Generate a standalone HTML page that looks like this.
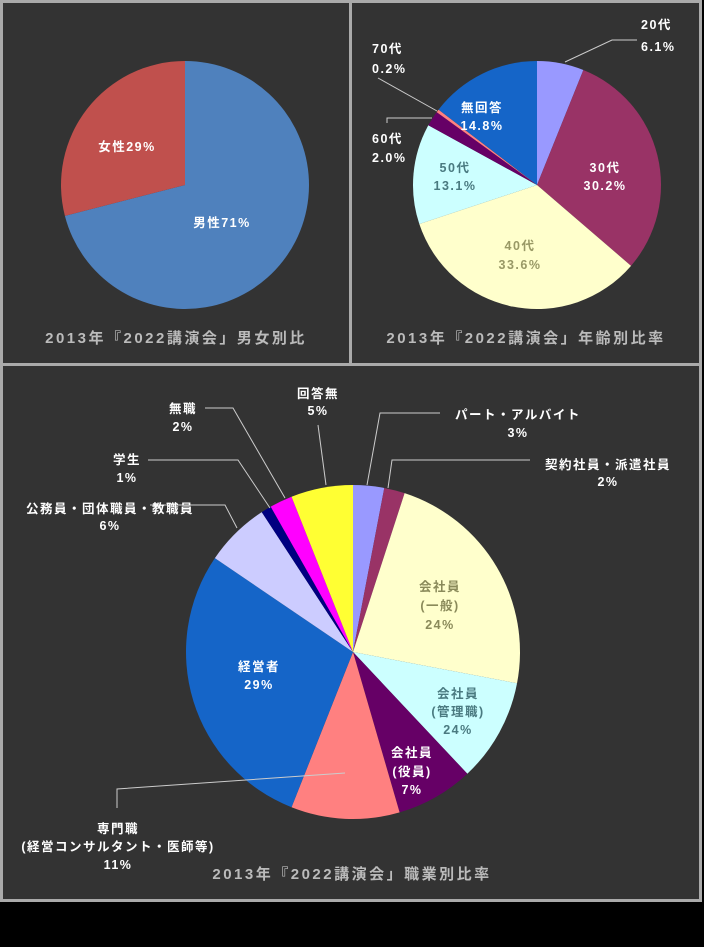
<!DOCTYPE html>
<html><head><meta charset="utf-8"><style>
html,body{margin:0;padding:0;background:#000;}
svg{display:block;}
text{font-family:"Liberation Sans","Noto Sans CJK JP",sans-serif;font-weight:bold;}
</style></head><body>
<svg id="s" width="704" height="947" xmlns="http://www.w3.org/2000/svg">
<rect x="0" y="0" width="704" height="947" fill="#000"/>
<rect x="0" y="0" width="702" height="902" fill="#aaa"/>
<rect x="3" y="3" width="346" height="360" fill="#333"/>
<rect x="352" y="3" width="347" height="360" fill="#333"/>
<rect x="3" y="366" width="696" height="533" fill="#333"/>
<g id="pies"></g>
<g stroke="#ccc" stroke-width="1" fill="none">
<polyline points="565,62 612,40 637,40"/>
<polyline points="378,78 437,111"/>
<polyline points="387,123 387,118 432,118"/>
<polyline points="318,425 326,485"/>
<polyline points="440,413 380,413 367,485"/>
<polyline points="530,460 392,460 388,488"/>
<polyline points="205,408 233,408 285,498"/>
<polyline points="148,460 238,460 270,508"/>
<polyline points="150,505 225,505 237,528"/>
<polyline points="117,808 117,789 345,773"/>
</g>
<g font-size="12.5" fill="#fff" text-anchor="middle" letter-spacing="1.5">
<text x="127" y="151">女性29%</text>
<text x="222" y="227">男性71%</text>
<text x="176" y="343" font-size="15" fill="#bbb" letter-spacing="2.5">2013年『2022講演会」男女別比</text>

<text x="641" y="29" text-anchor="start">20代</text><text x="641" y="51" text-anchor="start">6.1%</text>
<text x="605" y="172">30代</text><text x="605" y="190">30.2%</text>
<text x="520" y="250" fill="#999966">40代</text><text x="520" y="269" fill="#999966">33.6%</text>
<text x="455" y="172" fill="#4a7a80">50代</text><text x="455" y="190" fill="#4a7a80">13.1%</text>
<text x="482" y="112">無回答</text><text x="482" y="130">14.8%</text>
<text x="372" y="53" text-anchor="start">70代</text><text x="372" y="73" text-anchor="start">0.2%</text>
<text x="372" y="143" text-anchor="start">60代</text><text x="372" y="162" text-anchor="start">2.0%</text>
<text x="526" y="343" font-size="15" fill="#bbb" letter-spacing="2.5">2013年『2022講演会」年齢別比率</text>

<text x="318" y="398">回答無</text><text x="318" y="415">5%</text>
<text x="518" y="419">パート・アルバイト</text><text x="518" y="437">3%</text>
<text x="608" y="469">契約社員・派遣社員</text><text x="608" y="486">2%</text>
<text x="183" y="413">無職</text><text x="183" y="431">2%</text>
<text x="127" y="464">学生</text><text x="127" y="482">1%</text>
<text x="110" y="513">公務員・団体職員・教職員</text><text x="110" y="530">6%</text>
<text x="259" y="671">経営者</text><text x="259" y="689">29%</text>
<g fill="#8a8a5a"><text x="440" y="591">会社員</text><text x="440" y="610">(一般)</text><text x="440" y="629">24%</text></g>
<g fill="#4a7a80"><text x="458" y="698">会社員</text><text x="458" y="716">(管理職)</text><text x="458" y="734">24%</text></g>
<text x="412" y="757">会社員</text><text x="412" y="776">(役員)</text><text x="412" y="794">7%</text>
<text x="118" y="833">専門職</text><text x="118" y="851">(経営コンサルタント・医師等)</text><text x="118" y="869">11%</text>
<text x="352" y="879" font-size="15" fill="#bbb" letter-spacing="2.5">2013年『2022講演会」職業別比率</text>
</g>
</svg>
<script>
function pie(cx,cy,r,data){
  var g=document.getElementById('pies'),a=0,tot=0;
  data.forEach(function(d){tot+=d[0];});
  data.forEach(function(d){
    var a0=a/tot*2*Math.PI,a1=(a+d[0])/tot*2*Math.PI;a+=d[0];
    var x0=cx+r*Math.sin(a0),y0=cy-r*Math.cos(a0),x1=cx+r*Math.sin(a1),y1=cy-r*Math.cos(a1);
    var p=document.createElementNS('http://www.w3.org/2000/svg','path');
    p.setAttribute('d','M'+cx+','+cy+'L'+x0+','+y0+'A'+r+','+r+' 0 '+((a1-a0)>Math.PI?1:0)+' 1 '+x1+','+y1+'Z');
    p.setAttribute('fill',d[1]);g.appendChild(p);
  });
}
pie(185,185,124,[[71,'#4f81bd'],[29,'#c0504d']]);
pie(537,185,124,[[6.1,'#9999ff'],[30.2,'#993366'],[33.6,'#ffffcc'],[13.1,'#ccffff'],[2.0,'#660066'],[0.4,'#ff8080'],[14.6,'#1565c8']]);
pie(353,652,167,[[3,'#9999ff'],[2,'#993366'],[23,'#ffffcc'],[10,'#ccffff'],[7.5,'#660066'],[10.5,'#ff8080'],[28.5,'#1565c8'],[6.3,'#ccccff'],[1,'#000080'],[2.2,'#ff00ff'],[6,'#ffff33']]);
</script>
</body></html>
